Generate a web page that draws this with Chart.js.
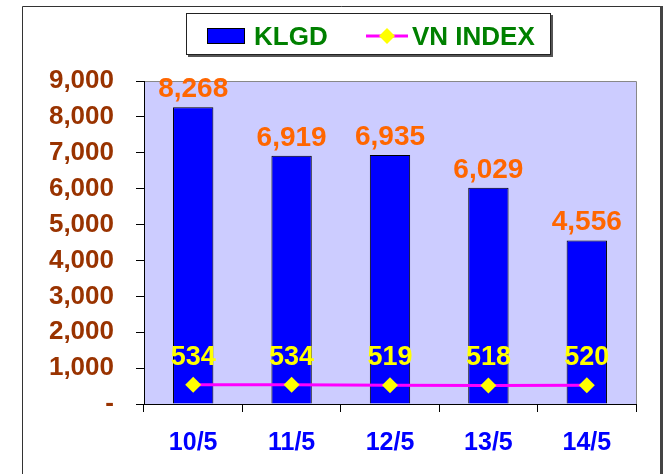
<!DOCTYPE html>
<html>
<head>
<meta charset="utf-8">
<script src="https://cdn.jsdelivr.net/npm/chart.js@4/dist/chart.umd.min.js"></script>
<style>
html,body{margin:0;padding:0;background:#fff;}
#wrap{width:663px;height:474px;position:relative;}
</style>
</head>
<body>
<div id="wrap"><canvas id="c" width="663" height="474"></canvas></div>
<script>
const categories = ['10/5', '11/5', '12/5', '13/5', '14/5'];
const klgd = [8268, 6919, 6935, 6029, 4556];
const vnIndex = [534, 534, 519, 518, 520];
const yTicks = ['-', '1,000', '2,000', '3,000', '4,000', '5,000', '6,000', '7,000', '8,000', '9,000'];

const FONT = '"Liberation Sans", Arial, sans-serif';
const fmt = v => v.toLocaleString('en-US');

const framePlugin = {
  id: 'frame',
  beforeDraw(chart) {
    const ctx = chart.ctx, a = chart.chartArea;
    ctx.save();
    ctx.fillStyle = '#fff';
    ctx.fillRect(0, 0, chart.width, chart.height);
    ctx.strokeStyle = '#333';
    ctx.lineWidth = 1;
    ctx.beginPath();
    ctx.moveTo(22.5, 480); ctx.lineTo(22.5, 6.5); ctx.lineTo(660, 6.5);
    ctx.stroke();
    ctx.lineWidth = 3;
    ctx.strokeStyle = '#444';
    ctx.beginPath();
    ctx.moveTo(661.5, 6); ctx.lineTo(661.5, 480);
    ctx.stroke();
    ctx.fillStyle = '#CCCCFF';
    ctx.fillRect(a.left, a.top, a.right - a.left, a.bottom - a.top);
    ctx.strokeStyle = '#888';
    ctx.lineWidth = 1;
    ctx.beginPath();
    ctx.moveTo(a.left, a.top + 0.5); ctx.lineTo(a.right + 0.5, a.top + 0.5); ctx.lineTo(a.right + 0.5, a.bottom);
    ctx.stroke();
    ctx.restore();
  },
  afterDatasetsDraw(chart) {
    const ctx = chart.ctx;
    ctx.save();
    ctx.textAlign = 'center';
    ctx.textBaseline = 'alphabetic';
    const barMeta = chart.getDatasetMeta(0);
    ctx.font = 'bold 28px ' + FONT;
    ctx.fillStyle = '#FF6600';
    barMeta.data.forEach((el, i) => {
      ctx.fillText(fmt(klgd[i]), el.x, el.y - 10);
    });
    const lineMeta = chart.getDatasetMeta(1);
    ctx.font = 'bold 27px ' + FONT;
    ctx.fillStyle = '#FFFF00';
    lineMeta.data.forEach((el, i) => {
      ctx.fillText(fmt(vnIndex[i]), el.x, el.y - 20);
    });
    // legend
    ctx.fillStyle = '#555';
    ctx.fillRect(188, 15, 365, 42);
    ctx.fillStyle = '#fff';
    ctx.fillRect(186, 13, 365, 42);
    ctx.strokeStyle = '#222';
    ctx.lineWidth = 1;
    ctx.strokeRect(186.5, 13.5, 364, 41);
    ctx.fillStyle = '#0000FF';
    ctx.fillRect(207, 28, 38, 16);
    ctx.strokeStyle = '#000';
    ctx.strokeRect(207.5, 28.5, 37, 15);
    ctx.strokeStyle = '#FF00FF';
    ctx.lineWidth = 3;
    ctx.beginPath(); ctx.moveTo(366, 36); ctx.lineTo(408, 36); ctx.stroke();
    ctx.fillStyle = '#FFFF00';
    ctx.beginPath();
    ctx.moveTo(387, 28); ctx.lineTo(395, 36); ctx.lineTo(387, 44); ctx.lineTo(379, 36); ctx.closePath();
    ctx.fill();
    ctx.font = 'bold 26px ' + FONT;
    ctx.fillStyle = '#008000';
    ctx.textAlign = 'left';
    ctx.fillText(chart.data.datasets[0].label, 254, 45);
    ctx.fillText(chart.data.datasets[1].label, 412, 45);
    ctx.restore();
  }
};

new Chart(document.getElementById('c'), {
  type: 'bar',
  data: {
    labels: categories,
    datasets: [
      {
        type: 'bar', label: 'KLGD', data: klgd,
        backgroundColor: '#0000FF', borderColor: '#000', borderWidth: 1,
        barPercentage: 0.41, categoryPercentage: 1, order: 1
      },
      {
        type: 'line', label: 'VN INDEX', data: vnIndex,
        borderColor: '#FF00FF', borderWidth: 3, backgroundColor: '#FFFF00',
        pointStyle: 'rectRot', pointRadius: 8, pointBorderWidth: 0,
        pointBackgroundColor: '#FFFF00', tension: 0, order: 0
      }
    ]
  },
  options: {
    responsive: false,
    animation: false,
    devicePixelRatio: 1,
    layout: { padding: { left: 0, right: 27, top: 81, bottom: 0 } },
    plugins: { legend: { display: false }, tooltip: { enabled: false } },
    scales: {
      x: {
        offset: true,
        grid: { offset: true, drawOnChartArea: false, drawTicks: true, tickLength: 8, color: '#000' },
        border: { color: '#000', width: 1 },
        ticks: { color: '#0000FF', font: { family: FONT, size: 25, weight: 'bold' }, padding: 16 },
        afterFit(s) { s.height = 70; }
      },
      y: {
        min: 0, max: 9000,
        grid: { drawOnChartArea: false, drawTicks: true, tickLength: 8, color: '#000' },
        border: { color: '#000', width: 1 },
        ticks: {
          stepSize: 1000,
          color: '#993300',
          font: { family: FONT, size: 26, weight: 'bold' },
          padding: 22,
          callback: (v) => yTicks[Math.round(v / 1000)]
        },
        afterFit(s) { s.width = 144; }
      }
    }
  },
  plugins: [framePlugin]
});
</script>
</body>
</html>
